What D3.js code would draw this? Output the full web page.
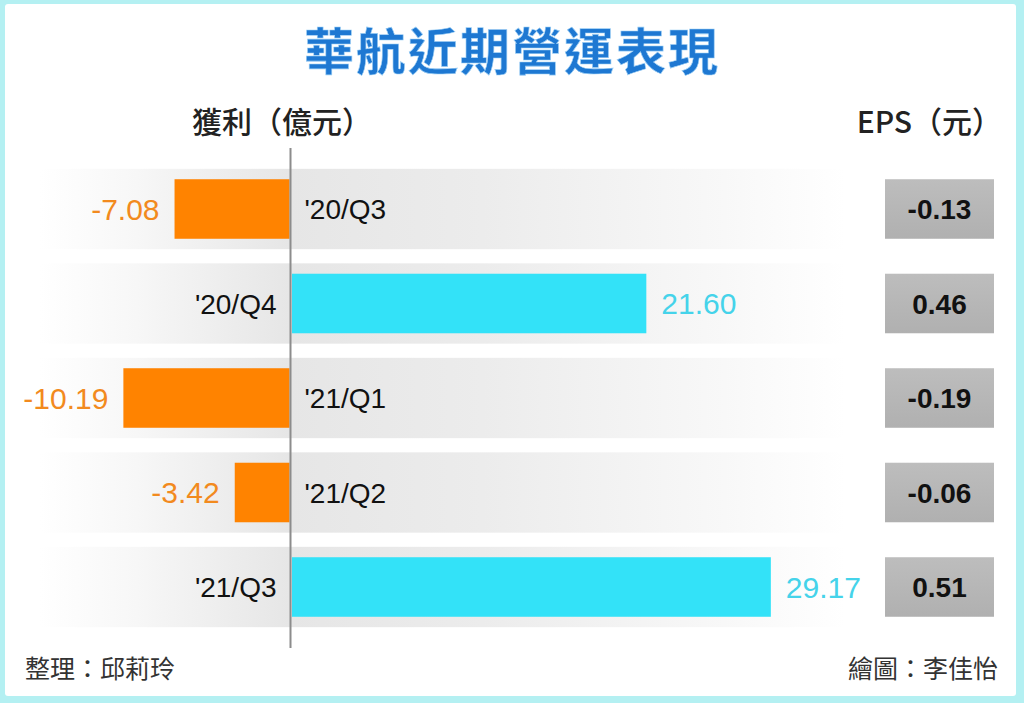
<!DOCTYPE html>
<html><head><meta charset="utf-8">
<script src="https://cdn.jsdelivr.net/npm/d3@7/dist/d3.min.js"></script>
<style>body{margin:0;background:#fff}svg{display:block}</style>
</head><body>
<script>
const title = "華航近期營運表現";
const leftHeader = "獲利（億元）";
const rightHeader = "EPS（元）";
const footLeft = "整理：邱莉玲";
const footRight = "繪圖：李佳怡";
const quarters = ["'20/Q3", "'20/Q4", "'21/Q1", "'21/Q2", "'21/Q3"];
const profit = [-7.08, 21.60, -10.19, -3.42, 29.17];
const eps = [-0.13, 0.46, -0.19, -0.06, 0.51];

const W = 1024, H = 703;
const svg = d3.select("body").append("svg").attr("width", W).attr("height", H);
const defs = svg.append("defs");

const g1 = defs.append("linearGradient").attr("id", "band")
  .attr("gradientUnits", "userSpaceOnUse").attr("x1", 40).attr("x2", 845).attr("y1", 0).attr("y2", 0);
[[0, "#ffffff"], [0.12, "#f7f7f7"], [0.31, "#e6e6e6"], [0.55, "#ececec"], [0.85, "#f8f8f8"], [1, "#ffffff"]]
  .forEach(([o, c]) => g1.append("stop").attr("offset", o).attr("stop-color", c));
const g2 = defs.append("linearGradient").attr("id", "epsbox").attr("x1", 0).attr("x2", 0).attr("y1", 0).attr("y2", 1);
[[0, "#bdbdbd"], [1, "#b0b0b0"]].forEach(([o, c]) => g2.append("stop").attr("offset", o).attr("stop-color", c));

// frame
svg.append("rect").attr("x", 0).attr("y", 0).attr("width", W).attr("height", H).attr("fill", "#b4f0f2");
svg.append("rect").attr("x", 5).attr("y", 4).attr("width", 1011).attr("height", 692).attr("rx", 3).attr("fill", "#ffffff");

const cjk = "'Noto Sans CJK TC','Noto Sans CJK SC',sans-serif";
const num = "'Liberation Sans',Arial,sans-serif";
const fmt = v => v.toFixed(2);

svg.append("text").attr("x", 512).attr("y", 70).attr("text-anchor", "middle")
  .attr("font-family", cjk).attr("font-weight", 700).attr("font-size", 50)
  .attr("letter-spacing", 2).attr("fill", "#1e78d2").attr("stroke", "#9fd0f5").attr("stroke-width", 0.6)
  .text(title);

svg.append("text").attr("x", 192).attr("y", 133).attr("font-family", cjk).attr("font-weight", 500)
  .attr("font-size", 30).attr("fill", "#222").text(leftHeader);
svg.append("text").attr("x", 1002).attr("y", 133).attr("text-anchor", "end").attr("font-family", cjk)
  .attr("font-weight", 500).attr("font-size", 30).attr("fill", "#222").text(rightHeader);

const x = d3.scaleLinear().domain([-10, 30]).range([291 - 164.5, 291 + 493.5]);
const y = d3.scaleBand().domain(quarters).range([161.75, 634.25]).padding(0);
const bw = y.bandwidth();
const axisX = x(0) - 0.5;

const data = quarters.map((q, i) => ({ q, v: profit[i], e: eps[i] }));
const rows = svg.append("g").selectAll("g").data(data).join("g")
  .attr("transform", d => `translate(0,${y(d.q) + bw / 2})`);

rows.append("rect").attr("x", 40).attr("width", 805).attr("y", -bw * 0.425).attr("height", bw * 0.85)
  .attr("fill", "url(#band)");

rows.append("rect")
  .attr("x", d => d.v < 0 ? x(d.v) : x(0) + 1)
  .attr("width", d => d.v < 0 ? x(0) - 1.5 - x(d.v) : x(d.v) - x(0) - 1)
  .attr("y", -bw * 0.315).attr("height", bw * 0.63)
  .attr("fill", d => d.v < 0 ? "#ff8300" : "#33e2f8");

rows.append("text")
  .attr("x", d => d.v < 0 ? x(d.v) - 15 : x(d.v) + 15)
  .attr("text-anchor", d => d.v < 0 ? "end" : "start")
  .attr("dy", "0.36em").attr("font-family", num).attr("font-size", 30)
  .attr("fill", d => d.v < 0 ? "#f28a1e" : "#45d3ea")
  .text(d => fmt(d.v));

rows.append("text")
  .attr("x", d => d.v < 0 ? axisX + 14 : axisX - 14)
  .attr("text-anchor", d => d.v < 0 ? "start" : "end")
  .attr("dy", "0.36em").attr("font-family", num).attr("font-size", 28).attr("fill", "#111")
  .text(d => d.q);

rows.append("rect").attr("x", 885).attr("width", 109).attr("y", -bw * 0.315).attr("height", bw * 0.63)
  .attr("fill", "url(#epsbox)");
rows.append("text").attr("x", 939.5).attr("text-anchor", "middle").attr("dy", "0.36em")
  .attr("font-family", num).attr("font-weight", 700).attr("font-size", 28).attr("fill", "#111")
  .text(d => fmt(d.e));

svg.append("line").attr("x1", axisX).attr("x2", axisX).attr("y1", 148).attr("y2", 648)
  .attr("stroke", "#8c8c8c").attr("stroke-width", 2);

svg.append("text").attr("x", 25).attr("y", 678).attr("font-family", cjk).attr("font-size", 25)
  .attr("fill", "#333").text(footLeft);
svg.append("text").attr("x", 998).attr("y", 678).attr("text-anchor", "end").attr("font-family", cjk)
  .attr("font-size", 25).attr("fill", "#333").text(footRight);
</script>
</body></html>
